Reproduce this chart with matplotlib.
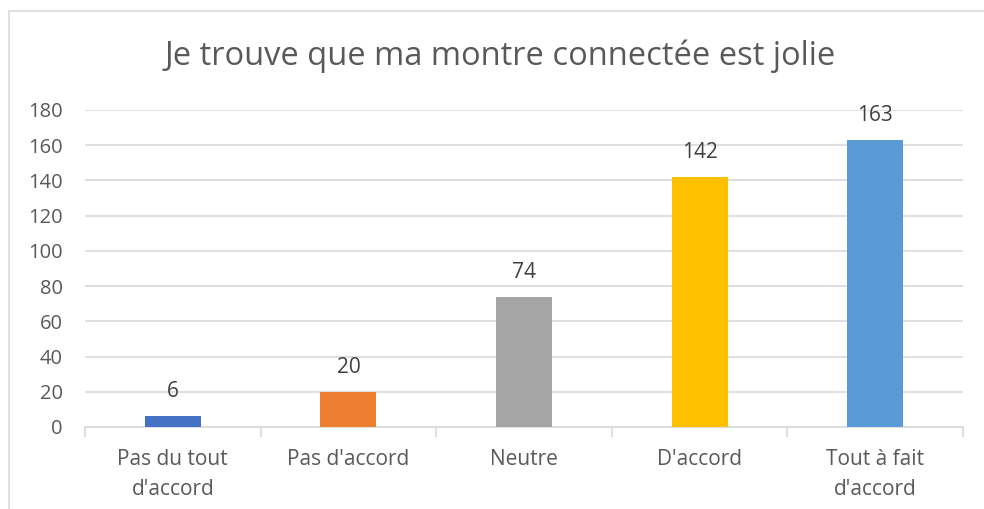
import matplotlib.pyplot as plt
from matplotlib.patches import Rectangle

categories = ["Pas du tout\nd'accord", "Pas d'accord", "Neutre", "D'accord", "Tout à fait\nd'accord"]
counts = [6, 20, 74, 142, 163]
colors = ["#4472C4", "#ED7D31", "#A5A5A5", "#FFC000", "#5B9BD5"]
yticks = [0, 20, 40, 60, 80, 100, 120, 140, 160, 180]

plt.rcParams["font.family"] = ["Open Sans", "DejaVu Sans"]
text_color = "#595959"

fig = plt.figure(figsize=(9.84, 5.09), dpi=100)
# chart frame
fig.patches.append(Rectangle((9 / 984, -0.1), 1.2, (509 - 11) / 509 + 0.1,
                             transform=fig.transFigure, fill=False,
                             edgecolor="#D9D9D9", linewidth=1.2))

ax = fig.add_axes([85 / 984, (509 - 427) / 509, (963 - 85) / 984, (427 - 110) / 509])
x = range(len(categories))
ax.bar(x, counts, width=0.32, color=colors, zorder=3)
for xi, v in zip(x, counts):
    ax.text(xi, v + 8, str(v), ha="center", va="bottom", fontsize=15, color="#404040")

ax.set_xlim(-0.5, len(categories) - 0.5)
ax.set_ylim(0, 180)
ax.set_yticks(yticks)
ax.yaxis.grid(True, color="#D9D9D9", linewidth=1.2, zorder=0)
ax.tick_params(axis="y", length=0, labelsize=14.5, labelcolor=text_color, pad=16)

# category boundary ticks
ax.set_xticks([i - 0.5 for i in range(len(categories) + 1)], minor=True)
ax.set_xticks(list(x))
ax.set_xticklabels(categories, fontsize=15, color=text_color, linespacing=1.55)
ax.tick_params(axis="x", which="major", length=0, pad=16)
ax.tick_params(axis="x", which="minor", length=7, color="#D9D9D9", width=1.2)

for s in ["top", "right", "left"]:
    ax.spines[s].set_visible(False)
ax.spines["bottom"].set_color("#D9D9D9")
ax.spines["bottom"].set_linewidth(1.2)

fig.text(500 / 984, 1 - 56 / 509, "Je trouve que ma montre connectée est jolie",
         ha="center", va="center", fontsize=23.5, color=text_color)

fig.savefig("out.png", dpi=100)
